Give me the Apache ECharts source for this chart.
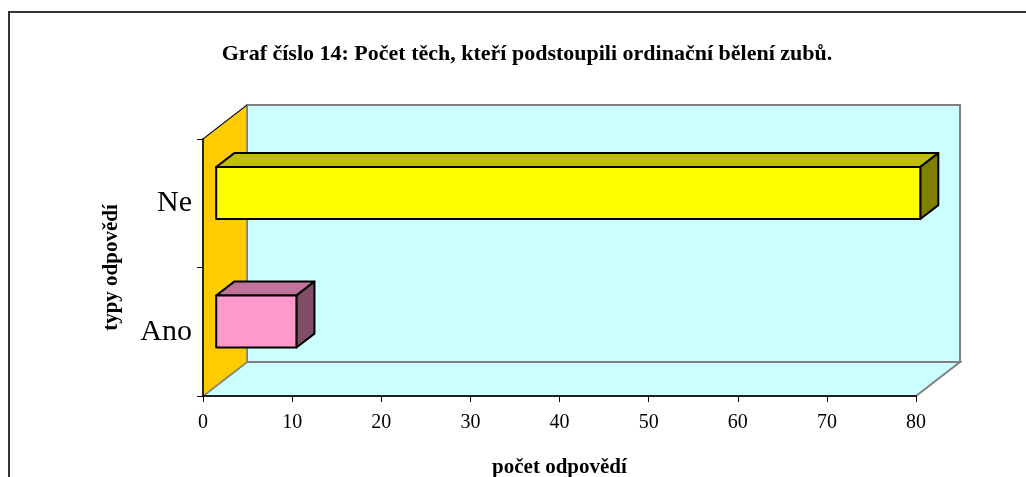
<!DOCTYPE html>
<html>
<head>
<meta charset="utf-8">
<script src="https://cdn.jsdelivr.net/npm/echarts@6/dist/echarts.min.js"></script>
<style>
  html, body { margin: 0; padding: 0; background: #fff; }
  #chart { width: 1026px; height: 477px; }
</style>
</head>
<body>
<div id="chart"></div>
<script>
const categories = ['Ano', 'Ne']
const answers = [9, 79]
const barColors = ['#ff99cc', '#ffff00']
const xTicks = { min: 0, max: 80, interval: 10 }

// 3D look: depth offset of the walls, and where the bar sits inside that depth
const DX = 44
const DY = -34
const GAP = 0.3
const BAR_DEPTH = 0.41
const FONT = '"Liberation Serif", "Times New Roman", serif'

function shade(hex, k) {
  const n = parseInt(hex.slice(1), 16)
  const r = Math.round(((n >> 16) & 255) * k)
  const g = Math.round(((n >> 8) & 255) * k)
  const b = Math.round((n & 255) * k)
  return 'rgb(' + r + ',' + g + ',' + b + ')'
}

function renderWalls(params, api) {
  const cs = params.coordSys
  const L = cs.x
  const T = cs.y
  const R = cs.x + cs.width
  const B = cs.y + cs.height
  return {
    type: 'group',
    children: [
      {
        type: 'rect',
        shape: { x: L + DX, y: T + DY, width: R - L, height: B - T },
        style: { fill: '#ccffff', stroke: '#808080', lineWidth: 2 }
      },
      {
        type: 'polygon',
        shape: { points: [[L, B], [R, B], [R + DX, B + DY], [L + DX, B + DY]] },
        style: { fill: '#ccffff', stroke: '#808080', lineWidth: 2 }
      },
      {
        type: 'polygon',
        shape: { points: [[L, B], [L, T], [L + DX, T + DY], [L + DX, B + DY]] },
        style: { fill: '#ffcc00', stroke: '#808080', lineWidth: 1.5 }
      },
      {
        type: 'line',
        shape: { x1: L, y1: T, x2: L + DX, y2: T + DY },
        style: { stroke: '#000', lineWidth: 1 }
      }
    ]
  }
}

function renderBar(params, api) {
  const cat = api.value(1)
  const start = api.coord([0, cat])
  const end = api.coord([api.value(0), cat])
  const h = api.size([0, 1])[1] * 0.405
  const x0 = start[0] + GAP * DX
  const x1 = end[0] + GAP * DX
  const yc = start[1] + GAP * DY
  const y0 = yc - h / 2
  const y1 = yc + h / 2
  const bx = BAR_DEPTH * DX
  const by = BAR_DEPTH * DY
  const color = barColors[params.dataIndex]
  const edge = { stroke: '#000', lineWidth: 2, lineJoin: 'round' }
  return {
    type: 'group',
    children: [
      {
        type: 'polygon',
        shape: { points: [[x0, y0], [x1, y0], [x1 + bx, y0 + by], [x0 + bx, y0 + by]] },
        style: Object.assign({ fill: shade(color, 0.75) }, edge)
      },
      {
        type: 'polygon',
        shape: { points: [[x1, y0], [x1 + bx, y0 + by], [x1 + bx, y1 + by], [x1, y1]] },
        style: Object.assign({ fill: shade(color, 0.5) }, edge)
      },
      {
        type: 'rect',
        shape: { x: x0, y: y0, width: x1 - x0, height: y1 - y0 },
        style: Object.assign({ fill: color }, edge)
      }
    ]
  }
}

const chart = echarts.init(document.getElementById('chart'))
chart.setOption({
  animation: false,
  backgroundColor: '#fff',
  title: {
    text: 'Graf číslo 14: Počet těch, kteří podstoupili ordinační bělení zubů.',
    left: 522,
    top: 38,
    textAlign: 'center',
    textStyle: { fontFamily: FONT, fontSize: 22, fontWeight: 'bold', color: '#000' }
  },
  graphic: [
    {
      type: 'polyline',
      shape: { points: [[9, 477], [9, 12], [1026, 12]] },
      style: { stroke: '#333', lineWidth: 2, fill: null },
      z: 0
    }
  ],
  grid: { left: 203, right: 110, top: 139, bottom: 81, containLabel: false, outerBoundsMode: 'none' },
  xAxis: {
    type: 'value',
    min: xTicks.min,
    max: xTicks.max,
    interval: xTicks.interval,
    z: 5,
    splitLine: { show: false },
    axisLine: { show: true, lineStyle: { color: '#000', width: 1.5 } },
    axisTick: { show: true, length: 6, lineStyle: { color: '#000' } },
    axisLabel: { margin: 17, fontFamily: FONT, fontSize: 20, color: '#000' },
    name: 'počet odpovědí',
    nameLocation: 'middle',
    nameGap: 61,
    nameTextStyle: { fontFamily: FONT, fontSize: 21, fontWeight: 'bold', color: '#000' }
  },
  yAxis: {
    type: 'category',
    data: categories,
    z: 5,
    axisLine: { show: true, lineStyle: { color: '#000', width: 1.5 } },
    axisTick: { show: true, length: 6, lineStyle: { color: '#000' } },
    axisLabel: { margin: 11, fontFamily: FONT, fontSize: 30, color: '#000' },
    name: 'typy odpovědí',
    nameLocation: 'middle',
    nameGap: 81,
    nameRotate: 90,
    nameTextStyle: { fontFamily: FONT, fontSize: 21, fontWeight: 'bold', color: '#000' }
  },
  series: [
    {
      type: 'custom',
      z: 1,
      silent: true,
      renderItem: renderWalls,
      data: [[0, 0]]
    },
    {
      type: 'custom',
      z: 6,
      renderItem: renderBar,
      encode: { x: 0, y: 1 },
      data: answers.map((v, i) => [v, i])
    }
  ]
})
</script>
</body>
</html>
